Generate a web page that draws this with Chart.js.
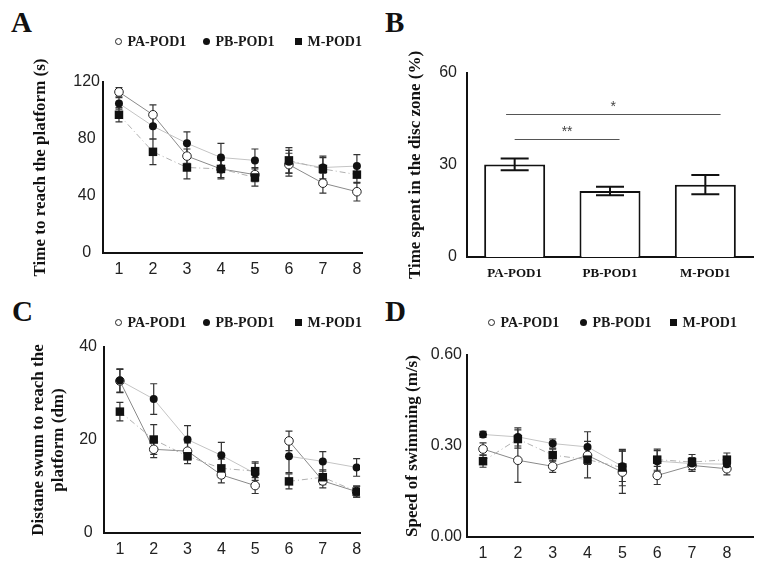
<!DOCTYPE html>
<html>
<head>
<meta charset="utf-8">
<script src="https://cdn.jsdelivr.net/npm/chart.js"></script>
<style>
body { margin: 0; background: #fff; width: 759px; height: 574px; position: relative; overflow: hidden; }
canvas { position: absolute; }
.letter { position: absolute; font: bold 29px "Liberation Serif", serif; color: #111; line-height: 1; }
.leg { position: absolute; font: bold 14px "Liberation Serif", serif; color: #1a1a1a; white-space: nowrap; line-height: 18px; }
.mk { display: inline-block; width: 7px; height: 7px; margin-right: 6px; vertical-align: 1px; box-sizing: border-box; }
.mk.open { border: 1px solid #222; border-radius: 50%; background: #fff; }
.mk.dot { background: #111; border-radius: 50%; }
.mk.sq { background: #111; }
</style>
</head>
<body>
<div class="letter" style="left:11px;top:8px">A</div>
<div class="letter" style="left:385px;top:8px">B</div>
<div class="letter" style="left:12px;top:297px">C</div>
<div class="letter" style="left:385px;top:297px">D</div>

<canvas id="chartA" width="380" height="290" style="left:0;top:0"></canvas>
<canvas id="chartB" width="379" height="290" style="left:380px;top:0"></canvas>
<canvas id="chartC" width="380" height="284" style="left:0;top:290px"></canvas>
<canvas id="chartD" width="379" height="284" style="left:380px;top:290px"></canvas>

<script>
// training days
const days = [1, 2, 3, 4, 5, 6, 7, 8];
const groups = ["PA-POD1", "PB-POD1", "M-POD1"];

// A: time to reach the platform (s)
const paTime = [113, 97, 68, 59, 55, 62, 49, 43];
const pbTime = [105, 89, 77, 67, 65, 64, 60, 61];
const mTime = [97, 71, 60, 59, 53, 65, 59, 55];
const paTimeErr = [3, 7, 5, 6, 5, 8, 7, 6.5];
const pbTimeErr = [4, 9, 8, 10, 8, 8, 8, 8];
const mTimeErr = [5, 9, 8, 7, 6, 9, 8, 6];

// B: time spent in the disc zone (%)
const discZone = [30.2, 21.5, 23.6];
const discZoneErr = [1.9, 1.4, 3.1];
// significance bars: from / to (category index), height (%), label
const sigFrom = [-0.09, 0];
const sigTo = [2.16, 1.1];
const sigHeight = [46.6, 38.5];
const sigLabel = ["*", "**"];

// C: distance swum (dm)
const paDist = [32.7, 18.0, 17.6, 12.5, 10.2, 19.8, 11.2, 8.9];
const pbDist = [32.8, 28.8, 20.1, 16.7, 12.8, 16.5, 15.4, 14.1];
const mDist = [26.1, 20.1, 16.5, 13.9, 13.3, 11.1, 12.0, 8.9];
const paDistErr = [2.5, 1.8, 1.8, 1.7, 1.7, 2.1, 1.5, 1.2];
const pbDistErr = [2.5, 3.3, 3, 2.8, 2.2, 3.5, 2.1, 1.9];
const mDistErr = [2, 3.2, 1.6, 2, 2, 1.6, 1.6, 1.2];

// D: speed of swimming (m/s)
const paSpeed = [0.29, 0.253, 0.233, 0.269, 0.214, 0.203, 0.236, 0.225];
const pbSpeed = [0.338, 0.33, 0.308, 0.297, 0.233, 0.25, 0.242, 0.24];
const mSpeed = [0.25, 0.323, 0.27, 0.255, 0.229, 0.255, 0.247, 0.255];
const paSpeedErr = [0.02, 0.073, 0.02, 0.03, 0.07, 0.03, 0.02, 0.02];
const pbSpeedErr = [0.01, 0.03, 0.015, 0.05, 0.05, 0.035, 0.02, 0.02];
const mSpeedErr = [0.02, 0.03, 0.02, 0.06, 0.06, 0.035, 0.025, 0.022];

const tickFont = { family: "Liberation Sans", size: 16 };
const titleFont = { family: "Liberation Serif", size: 17, weight: "bold" };

// error bars drawn from the dataset's "errors" array
const errorBars = {
    id: "errorBars",
    draw(chart, opts) {
        const ctx = chart.ctx;
        const y = chart.scales.y;
        ctx.save();
        ctx.strokeStyle = opts.color;
        ctx.lineWidth = opts.width;
        chart.data.datasets.forEach((ds, i) => {
            if (!ds.errors) return;
            chart.getDatasetMeta(i).data.forEach((el, j) => {
                const raw = ds.data[j];
                const v = typeof raw === "object" ? raw.y : raw;
                const e = ds.errors[j];
                const t = y.getPixelForValue(v + e);
                const b = y.getPixelForValue(v - e);
                const x = el.x;
                ctx.beginPath();
                ctx.moveTo(x, t); ctx.lineTo(x, b);
                ctx.moveTo(x - opts.cap, t); ctx.lineTo(x + opts.cap, t);
                ctx.moveTo(x - opts.cap, b); ctx.lineTo(x + opts.cap, b);
                ctx.stroke();
            });
        });
        ctx.restore();
    },
    beforeDatasetsDraw(chart, args, opts) { if (!opts.front) this.draw(chart, opts); },
    afterDatasetsDraw(chart, args, opts) { if (opts.front) this.draw(chart, opts); }
};

function series(vals) {
    return vals.map((v, i) => ({ x: days[i], y: v }));
}

// no line between day 5 and day 6
const gap = { borderColor: c => (c.p0DataIndex === 4 ? "rgba(0,0,0,0)" : undefined) };

function lineChart(id, data, errs, g) {
    return new Chart(id, {
        type: "line",
        data: {
            datasets: [
                { label: groups[0], data: series(data[0]), errors: errs[0], borderColor: "#8a8a8a", borderWidth: 1, order: 3,
                  pointStyle: "circle", pointRadius: 4.3, pointBackgroundColor: "#fff", pointBorderColor: "#222", pointBorderWidth: 1, segment: gap },
                { label: groups[1], data: series(data[1]), errors: errs[1], borderColor: "#c4c4c4", borderWidth: 1, order: 2,
                  pointStyle: "circle", pointRadius: 4, pointBackgroundColor: "#111", pointBorderColor: "#111", pointBorderWidth: 0, segment: gap },
                { label: groups[2], data: series(data[2]), errors: errs[2], borderColor: "#b0b0b0", borderWidth: 1, borderDash: [6, 3, 1, 3], order: 1,
                  pointStyle: "rect", pointRadius: 6, pointBackgroundColor: "#111", pointBorderColor: "#111", pointBorderWidth: 0, segment: gap }
            ]
        },
        options: {
            responsive: false,
            animation: false,
            layout: { padding: { top: g.top, right: g.right, left: 0, bottom: 0 } },
            plugins: {
                legend: { display: false },
                tooltip: { enabled: false },
                errorBars: { color: "#333", width: 1.2, cap: 3.5, front: false }
            },
            scales: {
                x: {
                    type: "linear", min: g.xMin, max: g.xMax,
                    grid: { display: false, drawTicks: false },
                    border: { color: "#111", width: 2 },
                    ticks: { font: tickFont, color: "#222", padding: 7 },
                    afterBuildTicks: s => { s.ticks = days.map(v => ({ value: v })); },
                    afterFit: s => { s.height = g.xh; }
                },
                y: {
                    min: 0, max: g.yMax,
                    grid: { display: false, drawTicks: false },
                    border: { color: "#111", width: 2 },
                    ticks: { stepSize: g.yStep, font: tickFont, color: "#222", padding: g.tp, crossAlign: g.align,
                             callback: v => g.fmt(v) },
                    title: { display: true, text: g.title, font: titleFont, color: "#111", padding: { top: g.tpad } },
                    afterFit: s => { s.width = g.yw; }
                }
            }
        },
        plugins: [errorBars]
    });
}

lineChart("chartA", [paTime, pbTime, mTime], [paTimeErr, pbTimeErr, mTimeErr], {
    top: 82, right: 18, xh: 37, yw: 103, xMin: 0.53, xMax: 8.15, yMax: 120, yStep: 40,
    tp: 3, align: "center", fmt: v => v, title: "Time to reach the platform (s)", tpad: 30
});

lineChart("chartC", [paDist, pbDist, mDist], [paDistErr, pbDistErr, mDistErr], {
    top: 57, right: 20, xh: 41, yw: 104, xMin: 0.53, xMax: 8.1, yMax: 40, yStep: 20,
    tp: 7, align: "center", fmt: v => v, title: ["Distane swum to reach the", "platform (dm)"], tpad: 28
});

lineChart("chartD", [paSpeed, pbSpeed, mSpeed], [paSpeedErr, pbSpeedErr, mSpeedErr], {
    top: 65, right: 6, xh: 37, yw: 87, xMin: 0.54, xMax: 8.75, yMax: 0.6, yStep: 0.3,
    tp: 5, align: "near", fmt: v => v.toFixed(2), title: "Speed of swimming (m/s)", tpad: 22
});

// significance lines for panel B
const sigBars = {
    id: "sigBars",
    afterDraw(chart) {
        const ctx = chart.ctx;
        const x = chart.scales.x, y = chart.scales.y;
        ctx.save();
        ctx.strokeStyle = "#555";
        ctx.lineWidth = 1;
        ctx.fillStyle = "#444";
        ctx.font = "14px 'Liberation Sans'";
        ctx.textAlign = "center";
        sigHeight.forEach((h, i) => {
            const yy = Math.round(y.getPixelForValue(h)) + 0.5;
            const x0 = x.getPixelForValue(sigFrom[i]);
            const x1 = x.getPixelForValue(sigTo[i]);
            ctx.beginPath();
            ctx.moveTo(x0, yy); ctx.lineTo(x1, yy);
            ctx.stroke();
            ctx.fillText(sigLabel[i], (x0 + x1) / 2, yy - 4);
        });
        ctx.restore();
    }
};

new Chart("chartB", {
    type: "bar",
    data: {
        labels: groups,
        datasets: [{
            data: discZone, errors: discZoneErr,
            backgroundColor: "#fff", borderColor: "#111", borderWidth: 2, borderSkipped: "bottom",
            barPercentage: 0.64, categoryPercentage: 1
        }]
    },
    options: {
        responsive: false,
        animation: false,
        layout: { padding: { top: 73, right: 6, left: 0, bottom: 0 } },
        plugins: {
            legend: { display: false },
            tooltip: { enabled: false },
            errorBars: { color: "#111", width: 2, cap: 14, front: true }
        },
        scales: {
            x: {
                grid: { display: false, drawTicks: false },
                border: { color: "#111", width: 2 },
                ticks: { font: { family: "Liberation Serif", size: 13, weight: "bold" }, color: "#111", padding: 9 },
                afterFit: s => { s.height = 33; }
            },
            y: {
                min: 0, max: 60,
                grid: { display: false, drawTicks: false },
                border: { color: "#111", width: 2 },
                ticks: { stepSize: 30, font: tickFont, color: "#222", padding: 10 },
                title: { display: true, text: "Time spent in the disc zone (%)", font: titleFont, color: "#111", padding: { top: 25 } },
                afterFit: s => { s.width = 87; }
            }
        }
    },
    plugins: [errorBars, sigBars]
});

// legends
function legend(top, xs) {
    const kinds = ["open", "dot", "sq"];
    xs.forEach((mx, i) => {
        const d = document.createElement("div");
        d.className = "leg";
        d.style.left = (mx - 3.5) + "px";
        d.style.top = (top - 9) + "px";
        d.innerHTML = '<span class="mk ' + kinds[i] + '"></span>' + groups[i];
        document.body.appendChild(d);
    });
}
legend(42, [118, 206, 298]);
legend(323, [118, 206, 298]);
legend(323, [491, 583, 673]);
</script>
</body>
</html>
